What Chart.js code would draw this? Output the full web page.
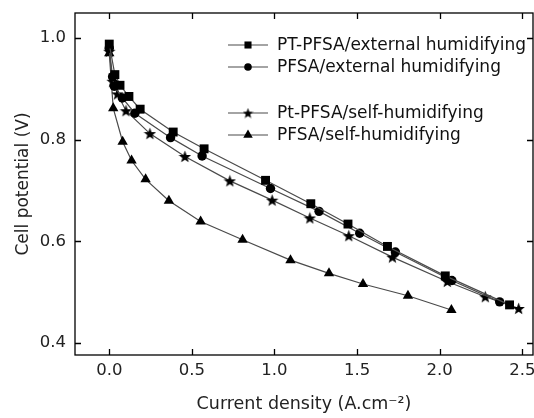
<!DOCTYPE html>
<html>
<head>
<meta charset="utf-8">
<script src="https://cdn.jsdelivr.net/npm/chart.js@4.4.1/dist/chart.umd.min.js"></script>
<style>
html,body{margin:0;padding:0;background:#fff;}
#c{display:block;}
</style>
</head>
<body>
<canvas id="c" width="534" height="418"></canvas>
<script>
// ---- data ----
const seriesNames = [
  "PT-PFSA/external humidifying",
  "PFSA/external humidifying",
  "Pt-PFSA/self-humidifying",
  "PFSA/self-humidifying"
];
const ptExtX = [0.0, 0.034, 0.065, 0.119, 0.187, 0.387, 0.574, 0.946, 1.220, 1.445, 1.684, 2.034, 2.423];
const ptExtY = [0.988, 0.928, 0.907, 0.885, 0.860, 0.815, 0.782, 0.720, 0.674, 0.634, 0.590, 0.532, 0.475];
const pfExtX = [0.0, 0.020, 0.030, 0.079, 0.155, 0.371, 0.562, 0.976, 1.270, 1.516, 1.732, 2.074, 2.363];
const pfExtY = [0.980, 0.924, 0.905, 0.882, 0.852, 0.804, 0.768, 0.704, 0.659, 0.616, 0.579, 0.523, 0.481];
const ptSelfX = [0.0, 0.020, 0.050, 0.101, 0.246, 0.458, 0.730, 0.986, 1.214, 1.450, 1.714, 2.046, 2.276, 2.478];
const ptSelfY = [0.974, 0.915, 0.890, 0.857, 0.812, 0.767, 0.719, 0.681, 0.646, 0.611, 0.569, 0.521, 0.491, 0.468];
const pfSelfX = [0.0, 0.024, 0.081, 0.135, 0.220, 0.361, 0.553, 0.807, 1.097, 1.330, 1.536, 1.808, 2.071];
const pfSelfY = [0.970, 0.862, 0.796, 0.759, 0.722, 0.680, 0.639, 0.603, 0.563, 0.537, 0.516, 0.493, 0.465];
const xTicks = [0.0, 0.5, 1.0, 1.5, 2.0, 2.5];
const yTicks = [0.4, 0.6, 0.8, 1.0];
const xTitle = "Current density (A.cm\u207B\u00B2)";
const yTitle = "Cell potential (V)";

// ---- styles ----
const FONT = "'DejaVu Sans', 'Liberation Sans', Arial, sans-serif";
const lineColor = '#4a4a4a';
const markColor = '#000';

function makeStar(size) {
  const cv = document.createElement('canvas');
  cv.width = size; cv.height = size;
  const g = cv.getContext('2d');
  const cx = size / 2, cy = size / 2 + 0.6;
  const R = size / 2, r = R * 0.42;
  g.beginPath();
  for (let i = 0; i < 10; i++) {
    const a = -Math.PI / 2 + i * Math.PI / 5;
    const rr = (i % 2 === 0) ? R : r;
    const px = cx + rr * Math.cos(a), py = cy + rr * Math.sin(a);
    if (i === 0) g.moveTo(px, py); else g.lineTo(px, py);
  }
  g.closePath();
  g.fillStyle = '#000';
  g.fill();
  return cv;
}
const starImg = makeStar(13);
const starImgSmall = makeStar(11);

function pts(xs, ys) { return xs.map((x, i) => ({x: x, y: ys[i]})); }

const datasets = [
  {label: seriesNames[0], data: pts(ptExtX, ptExtY), pointStyle: 'rect', pointRadius: 6.3, legendRadius: 5},
  {label: seriesNames[1], data: pts(pfExtX, pfExtY), pointStyle: 'circle', pointRadius: 4.7, legendRadius: 3.8},
  {label: seriesNames[2], data: pts(ptSelfX, ptSelfY), pointStyle: starImg, legendStyle: starImgSmall, pointRadius: 6},
  {label: seriesNames[3], data: pts(pfSelfX, pfSelfY), pointStyle: 'triangle', pointRadius: 6, legendRadius: 5.5}
].map(d => Object.assign({
  borderColor: lineColor,
  borderWidth: 1.2,
  backgroundColor: markColor,
  pointBackgroundColor: markColor,
  pointBorderColor: markColor,
  pointBorderWidth: 0,
  showLine: true,
  tension: 0,
  fill: false
}, d));

const frameTicks = {
  id: 'frameTicks',
  afterDraw(chart) {
    const {ctx, chartArea: a, scales: {x, y}} = chart;
    ctx.save();
    ctx.strokeStyle = '#000';
    ctx.lineWidth = 1.3;
    ctx.strokeRect(a.left, a.top, a.right - a.left, a.bottom - a.top);
    const L = 6;
    ctx.beginPath();
    xTicks.forEach(v => {
      const px = Math.round(x.getPixelForValue(v)) + 0.5;
      ctx.moveTo(px, a.bottom); ctx.lineTo(px, a.bottom - L);
      ctx.moveTo(px, a.top); ctx.lineTo(px, a.top + L);
    });
    yTicks.forEach(v => {
      const py = Math.round(y.getPixelForValue(v)) + 0.5;
      ctx.moveTo(a.left, py); ctx.lineTo(a.left + L, py);
      ctx.moveTo(a.right, py); ctx.lineTo(a.right - L, py);
    });
    ctx.stroke();
    ctx.restore();
  }
};

const legendPlugin = {
  id: 'customLegend',
  afterDraw(chart) {
    const ctx = chart.ctx;
    const rows = [45, 67, 113, 135];
    const x0 = 228, x1 = 268, xm = 248, xt = 277;
    ctx.save();
    ctx.font = '17px ' + FONT;
    ctx.textBaseline = 'middle';
    ctx.textAlign = 'left';
    chart.data.datasets.forEach((d, i) => {
      const yy = rows[i];
      ctx.strokeStyle = lineColor;
      ctx.lineWidth = 1.2;
      ctx.beginPath();
      ctx.moveTo(x0, yy); ctx.lineTo(x1, yy);
      ctx.stroke();
      ctx.fillStyle = markColor;
      ctx.strokeStyle = markColor;
      const style = d.legendStyle || d.pointStyle;
      Chart.helpers.drawPoint(ctx, {pointStyle: style, radius: d.legendRadius || 5, borderWidth: 0, rotation: 0}, xm, yy);
      ctx.fillStyle = '#111';
      ctx.fillText(d.label, xt, yy + 1);
    });
    ctx.restore();
  }
};

new Chart(document.getElementById('c'), {
  type: 'scatter',
  data: {datasets: datasets},
  options: {
    responsive: false,
    animation: false,
    layout: {autoPadding: false, padding: {top: 13, right: 1, left: 0, bottom: 0}},
    plugins: {legend: {display: false}, tooltip: {enabled: false}},
    scales: {
      x: {
        type: 'linear',
        min: -0.2074, max: 2.565,
        afterBuildTicks: s => { s.ticks = xTicks.map(v => ({value: v})); },
        afterFit: s => { s.height = 63; s.paddingLeft = 0; s.paddingRight = 0; },
        grid: {display: false, drawTicks: false},
        border: {display: false},
        ticks: {
          autoSkip: false, maxRotation: 0, padding: 6, color: '#222',
          font: {family: FONT, size: 16.5},
          callback: v => Number(v).toFixed(1)
        },
        title: {display: true, text: xTitle, color: '#222', font: {family: FONT, size: 17.5}, padding: {top: 0, bottom: 3}}
      },
      y: {
        type: 'linear',
        min: 0.3764, max: 1.0492,
        afterBuildTicks: s => { s.ticks = yTicks.map(v => ({value: v})); },
        afterFit: s => { s.width = 75; s.paddingTop = 0; s.paddingBottom = 0; },
        grid: {display: false, drawTicks: false},
        border: {display: false},
        ticks: {
          autoSkip: false, padding: 9, color: '#222',
          font: {family: FONT, size: 16.5},
          callback: v => Number(v).toFixed(1)
        },
        title: {display: true, text: yTitle, color: '#222', font: {family: FONT, size: 17}, padding: {top: 13, bottom: 0}}
      }
    }
  },
  plugins: [frameTicks, legendPlugin]
});
</script>
</body>
</html>
